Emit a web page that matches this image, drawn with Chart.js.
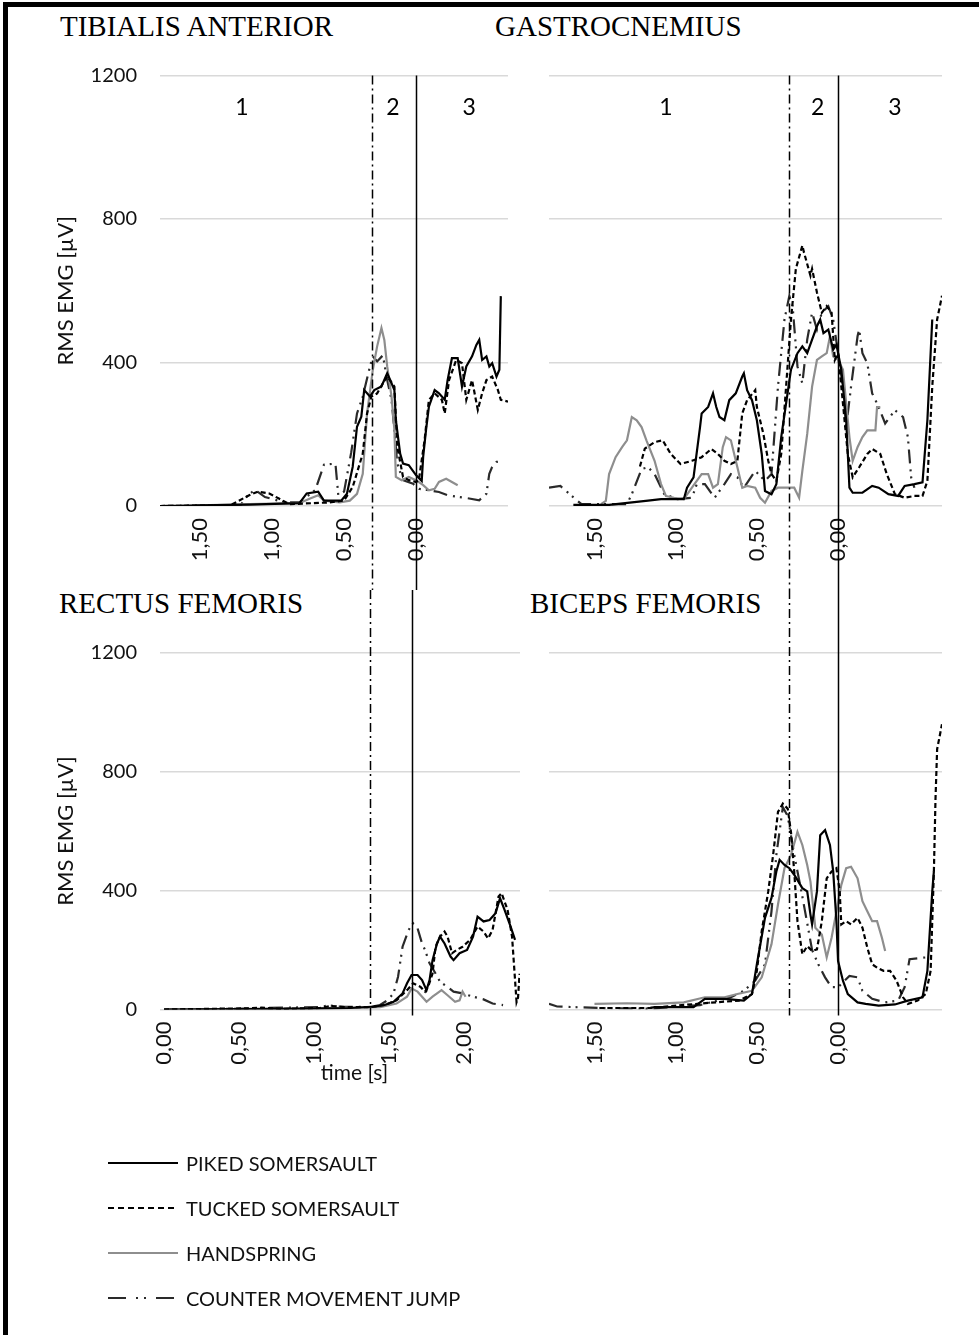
<!DOCTYPE html>
<html>
<head>
<meta charset="utf-8">
<script src="https://cdn.jsdelivr.net/npm/chart.js@4.4.1/dist/chart.umd.min.js"></script>
<style>
  body { margin: 0; background: #fff; }
  #page { position: relative; width: 979px; height: 1335px; overflow: hidden; background: #fff; }
  #frame { position: absolute; left: 3px; top: 2px; width: 1000px; height: 1400px;
           border-left: 5px solid #000; border-top: 5px solid #000; }
  canvas { position: absolute; }
  .title { position: absolute; font-family: "Liberation Serif", "Times New Roman", serif;
           font-size: 29px; line-height: 29px; color: #000; white-space: nowrap; }
  #legend { position: absolute; left: 108px; top: 1140px; font-family: Lato, sans-serif;
            font-size: 20px; color: #111; }
  .lrow { height: 45px; display: flex; align-items: center; }
  .lrow canvas { position: static; margin-right: 8px; }
</style>
</head>
<body>
<div id="page">
  <div id="frame"></div>
  <div class="title" style="left:60px;top:12px">TIBIALIS ANTERIOR</div>
  <div class="title" style="left:495px;top:12px">GASTROCNEMIUS</div>
  <div class="title" style="left:59px;top:589px">RECTUS FEMORIS</div>
  <div class="title" style="left:530px;top:589px">BICEPS FEMORIS</div>

  <canvas id="cTA" width="525" height="590" style="left:0;top:0"></canvas>
  <canvas id="cGA" width="454" height="590" style="left:525px;top:0"></canvas>
  <canvas id="cRF" width="525" height="520" style="left:0;top:590px"></canvas>
  <canvas id="cBF" width="454" height="520" style="left:525px;top:590px"></canvas>

  <div id="legend"></div>
</div>
<script>
// ---- series (time [s], RMS EMG [µV]) ----
// order: piked, tucked, handspring, counter movement jump
const SERIES_NAMES = ['PIKED SOMERSAULT', 'TUCKED SOMERSAULT', 'HANDSPRING', 'COUNTER MOVEMENT JUMP'];

// time axes
const LANDING_TICKS = [-1.5, -1.0, -0.5, 0];       // shown as time before landing
const RF_TICKS = [0, 0.5, 1.0, 1.5, 2.0];
const Y_TICKS_STEP = 400;
const Y_MAX = 1200;

// phase borders (dash-dot = take-off, solid = landing)
const LANDING_PHASES = [-0.305, 0];
const RF_PHASES = [1.37, 1.65];
const TA_PHASE_LABELS = [['1', -1.21], ['2', -0.16], ['3', 0.37]];
const GA_PHASE_LABELS = [['1', -1.06], ['2', -0.125], ['3', 0.35]];

// TIBIALIS ANTERIOR
const TA_PIKED = [[-1.78,0],[-1.50,2],[-1.16,4],[-0.81,8],[-0.76,35],[-0.68,40],[-0.64,15],[-0.52,15],[-0.48,34],[-0.44,109],[-0.41,221],[-0.38,249],[-0.36,323],[-0.32,305],[-0.29,323],[-0.24,333],[-0.20,370],[-0.18,352],[-0.15,323],[-0.14,240],[-0.11,146],[-0.09,118],[-0.05,114],[0.00,86],[0.04,70],[0.05,137],[0.07,212],[0.09,277],[0.13,323],[0.16,314],[0.20,296],[0.22,351],[0.25,412],[0.29,412],[0.32,333],[0.35,389],[0.39,417],[0.42,449],[0.44,463],[0.46,407],[0.49,417],[0.51,389],[0.53,398],[0.56,361],[0.58,380],[0.59,585]];
const TA_TUCKED = [[-1.78,0],[-1.29,2],[-1.16,30],[-1.10,40],[-1.02,35],[-0.95,20],[-0.88,5],[-0.60,10],[-0.50,15],[-0.44,53],[-0.37,146],[-0.34,258],[-0.31,305],[-0.27,314],[-0.23,342],[-0.20,361],[-0.15,333],[-0.13,165],[-0.09,81],[-0.05,72],[0.00,67],[0.02,72],[0.06,184],[0.09,296],[0.13,314],[0.18,296],[0.20,258],[0.23,351],[0.28,407],[0.32,398],[0.35,296],[0.39,351],[0.43,268],[0.46,314],[0.49,351],[0.53,361],[0.57,323],[0.59,296],[0.64,291]];
const TA_HAND = [[-1.50,2],[-1.16,5],[-0.81,8],[-0.74,20],[-0.68,30],[-0.64,15],[-0.53,10],[-0.46,15],[-0.41,34],[-0.37,90],[-0.34,258],[-0.30,380],[-0.27,445],[-0.24,496],[-0.22,463],[-0.20,389],[-0.17,305],[-0.15,212],[-0.14,81],[-0.10,72],[-0.05,81],[0.00,72],[0.05,58],[0.09,44],[0.13,48],[0.16,67],[0.21,76],[0.25,67],[0.29,58]];
const TA_CMJ = [[-1.78,0],[-1.22,2],[-1.17,30],[-1.12,45],[-1.05,25],[-0.91,10],[-0.81,10],[-0.70,45],[-0.64,115],[-0.56,118],[-0.54,30],[-0.50,40],[-0.45,150],[-0.41,258],[-0.37,305],[-0.32,389],[-0.30,417],[-0.27,403],[-0.23,420],[-0.20,351],[-0.17,296],[-0.15,212],[-0.13,118],[-0.09,72],[-0.02,62],[0.02,48],[0.09,44],[0.16,39],[0.22,30],[0.30,25],[0.37,21],[0.44,16],[0.49,34],[0.51,90],[0.53,109],[0.56,123],[0.60,123]];

// GASTROCNEMIUS
const GA_PIKED = [[-1.63,3],[-1.41,3],[-1.17,15],[-1.09,19],[-0.95,19],[-0.93,51],[-0.89,80],[-0.85,220],[-0.84,258],[-0.80,276],[-0.77,314],[-0.75,276],[-0.73,248],[-0.70,239],[-0.67,295],[-0.63,314],[-0.59,361],[-0.58,370],[-0.56,323],[-0.53,295],[-0.50,239],[-0.47,145],[-0.45,42],[-0.41,33],[-0.38,61],[-0.35,192],[-0.32,286],[-0.29,380],[-0.25,426],[-0.22,445],[-0.19,426],[-0.16,464],[-0.13,501],[-0.11,520],[-0.09,482],[-0.06,492],[-0.03,436],[-0.01,450],[0.02,380],[0.05,239],[0.07,51],[0.09,37],[0.15,37],[0.21,56],[0.25,51],[0.31,33],[0.37,28],[0.41,56],[0.47,61],[0.52,66],[0.55,239],[0.58,520]];
const GA_TUCKED = [[-1.22,110],[-1.19,160],[-1.13,178],[-1.08,183],[-1.03,145],[-0.97,117],[-0.90,126],[-0.84,136],[-0.78,159],[-0.74,145],[-0.70,126],[-0.66,117],[-0.62,126],[-0.59,258],[-0.56,295],[-0.51,323],[-0.50,276],[-0.46,201],[-0.43,126],[-0.41,89],[-0.38,70],[-0.35,145],[-0.32,333],[-0.29,520],[-0.26,661],[-0.22,726],[-0.21,707],[-0.17,642],[-0.16,661],[-0.13,595],[-0.10,539],[-0.07,557],[-0.04,539],[-0.02,407],[0.00,426],[0.03,286],[0.06,145],[0.09,80],[0.13,108],[0.18,145],[0.21,159],[0.26,145],[0.30,89],[0.35,33],[0.41,23],[0.47,28],[0.52,28],[0.55,70],[0.58,333],[0.61,520],[0.64,586]];
const GA_HAND = [[-1.46,5],[-1.43,14],[-1.41,89],[-1.37,136],[-1.33,164],[-1.30,183],[-1.27,248],[-1.24,239],[-1.21,220],[-1.18,183],[-1.13,126],[-1.09,61],[-1.06,28],[-1.01,23],[-0.95,19],[-0.90,51],[-0.84,89],[-0.80,89],[-0.77,51],[-0.74,61],[-0.71,164],[-0.69,192],[-0.66,183],[-0.62,108],[-0.59,51],[-0.56,56],[-0.51,51],[-0.48,23],[-0.45,9],[-0.41,42],[-0.37,51],[-0.31,51],[-0.27,51],[-0.24,23],[-0.22,98],[-0.19,201],[-0.16,333],[-0.13,407],[-0.10,417],[-0.07,426],[-0.05,473],[-0.03,417],[0.00,407],[0.03,380],[0.05,286],[0.07,192],[0.09,126],[0.12,164],[0.15,192],[0.18,211],[0.23,211],[0.24,276],[0.26,276]];
const GA_CMJ = [[-1.78,51],[-1.71,56],[-1.64,28],[-1.58,5],[-1.40,5],[-1.30,5],[-1.27,33],[-1.21,103],[-1.17,108],[-1.13,89],[-1.07,33],[-0.99,19],[-0.90,23],[-0.87,61],[-0.82,61],[-0.76,23],[-0.70,61],[-0.66,89],[-0.62,80],[-0.58,51],[-0.51,98],[-0.45,70],[-0.41,89],[-0.37,333],[-0.33,520],[-0.30,586],[-0.28,557],[-0.25,389],[-0.22,342],[-0.19,464],[-0.16,539],[-0.13,492],[-0.10,539],[-0.06,557],[-0.03,520],[0.00,426],[0.03,333],[0.05,220],[0.08,333],[0.12,473],[0.13,492],[0.15,426],[0.18,398],[0.21,314],[0.25,276],[0.29,230],[0.35,267],[0.40,248],[0.43,192],[0.45,80],[0.47,51]];

// RECTUS FEMORIS (time from start)
const RF_PIKED = [[0.00,0],[0.44,1],[0.91,3],[1.24,5],[1.41,10],[1.47,15],[1.53,26],[1.59,54],[1.62,88],[1.65,116],[1.69,116],[1.72,99],[1.75,65],[1.77,99],[1.79,166],[1.82,222],[1.84,245],[1.87,222],[1.91,178],[1.93,166],[1.97,189],[2.02,200],[2.06,245],[2.09,312],[2.13,296],[2.17,301],[2.21,324],[2.24,374],[2.27,335],[2.31,279],[2.34,234]];
const RF_TUCKED = [[0.00,0],[0.57,4],[0.65,6],[0.77,2],[1.04,5],[1.11,12],[1.21,8],[1.37,8],[1.47,15],[1.55,31],[1.62,65],[1.66,88],[1.71,76],[1.74,60],[1.76,76],[1.79,121],[1.81,211],[1.84,245],[1.87,262],[1.89,245],[1.92,189],[1.95,200],[1.99,211],[2.04,234],[2.09,279],[2.13,262],[2.16,239],[2.19,267],[2.23,380],[2.25,391],[2.29,335],[2.32,245],[2.34,99],[2.35,25],[2.36,40],[2.37,120]];
const RF_HAND = [[0.00,0],[0.91,2],[1.44,8],[1.55,20],[1.62,43],[1.65,71],[1.69,60],[1.72,43],[1.75,26],[1.79,43],[1.85,65],[1.89,48],[1.94,26],[1.97,31],[1.99,60],[2.01,43]];
const RF_CMJ = [[0.00,0],[0.61,3],[0.67,5],[1.04,8],[1.09,14],[1.17,10],[1.37,8],[1.44,15],[1.49,31],[1.53,54],[1.56,110],[1.59,211],[1.63,267],[1.66,290],[1.69,273],[1.72,222],[1.74,200],[1.77,155],[1.81,121],[1.84,93],[1.89,76],[1.93,60],[1.99,54],[2.06,43],[2.13,34],[2.19,20],[2.26,15]];

// BICEPS FEMORIS
const BF_PIKED = [[-1.16,5],[-1.13,8],[-0.89,8],[-0.82,36],[-0.70,36],[-0.58,30],[-0.53,52],[-0.50,152],[-0.45,308],[-0.41,375],[-0.38,464],[-0.36,503],[-0.33,486],[-0.30,475],[-0.27,453],[-0.22,408],[-0.19,397],[-0.17,319],[-0.16,286],[-0.13,397],[-0.11,586],[-0.08,603],[-0.05,553],[-0.03,464],[-0.01,297],[0.00,163],[0.03,97],[0.06,52],[0.12,24],[0.17,19],[0.25,13],[0.35,17],[0.43,30],[0.52,41],[0.55,130],[0.58,397],[0.59,464]];
const BF_TUCKED = [[-1.47,5],[-1.16,5],[-0.85,20],[-0.61,30],[-0.53,52],[-0.50,130],[-0.47,264],[-0.43,397],[-0.40,519],[-0.37,664],[-0.34,692],[-0.31,675],[-0.29,597],[-0.27,464],[-0.25,297],[-0.22,186],[-0.19,213],[-0.16,197],[-0.13,202],[-0.10,297],[-0.07,441],[-0.04,464],[-0.01,475],[0.01,397],[0.02,286],[0.05,297],[0.08,286],[0.12,308],[0.15,275],[0.18,208],[0.21,152],[0.24,141],[0.28,130],[0.32,130],[0.36,97],[0.40,41],[0.43,19],[0.49,30],[0.54,52],[0.57,130],[0.59,464],[0.60,708],[0.61,875],[0.64,959]];
const BF_HAND = [[-1.50,19],[-1.30,21],[-1.13,19],[-0.95,24],[-0.82,41],[-0.70,41],[-0.62,52],[-0.53,63],[-0.47,108],[-0.41,219],[-0.37,353],[-0.33,475],[-0.29,519],[-0.25,597],[-0.22,553],[-0.19,486],[-0.17,430],[-0.14,275],[-0.10,252],[-0.07,175],[-0.04,241],[-0.01,330],[0.02,419],[0.05,475],[0.08,480],[0.12,441],[0.15,364],[0.18,330],[0.21,297],[0.24,297],[0.27,241],[0.29,197]];
const BF_CMJ = [[-1.78,19],[-1.73,10],[-1.47,5],[-1.16,3],[-0.85,15],[-0.66,41],[-0.58,63],[-0.51,97],[-0.45,152],[-0.41,330],[-0.38,520],[-0.34,680],[-0.31,650],[-0.27,520],[-0.22,380],[-0.16,200],[-0.12,150],[-0.08,108],[-0.04,75],[0.00,75],[0.04,97],[0.07,113],[0.12,108],[0.15,63],[0.21,36],[0.29,24],[0.37,30],[0.41,75],[0.44,169],[0.54,175]];

// ---- styles ----
const SERIES_COLORS = ['#000000', '#000000', '#8e8e8e', '#2a2a2a'];
const SERIES_DASH = [[], [5, 3], [], [14, 6, 2, 5, 2, 6]];
const LEGEND_DASH = [[], [6, 4], [], [18, 10, 2, 6, 2, 10]];
const GRID_COLOR = '#d9d9d9';
const TEXT_COLOR = '#111111';

Chart.defaults.font.family = 'Lato, "Open Sans", sans-serif';
Chart.defaults.color = TEXT_COLOR;

// phase borders, the 1/2/3 region numbers and the time-axis caption
const phasePlugin = {
  id: 'phases',
  afterDatasetsDraw(chart, args, opts) {
    const { ctx, chartArea } = chart;
    const x = chart.scales.x;
    const top = opts.fromTop ? 0 : chartArea.top;
    const bottom = opts.fromTop ? chartArea.bottom + 6 : chart.height;
    ctx.save();
    ctx.strokeStyle = '#000';
    ctx.lineWidth = 1.5;
    opts.lines.forEach((t, i) => {
      const px = Math.round(x.getPixelForValue(t)) + 0.5;
      ctx.setLineDash(i === 0 ? [9, 4, 2, 4] : []);
      ctx.beginPath();
      ctx.moveTo(px, top);
      ctx.lineTo(px, bottom);
      ctx.stroke();
    });
    ctx.setLineDash([]);
    ctx.fillStyle = '#000';
    ctx.textAlign = 'center';
    ctx.textBaseline = 'middle';
    if (opts.labels) {
      ctx.font = '23px Lato, sans-serif';
      opts.labels.forEach(([txt, t]) => {
        ctx.fillText(txt, x.getPixelForValue(t), chartArea.top + 32);
      });
    }
    if (opts.caption) {
      ctx.fillStyle = TEXT_COLOR;
      ctx.font = '21px Lato, sans-serif';
      ctx.fillText(opts.caption.text, x.getPixelForValue(opts.caption.t), chartArea.bottom + opts.caption.dy);
    }
    ctx.restore();
  }
};

function makeDatasets(list) {
  return list.map((pts, i) => ({
    label: SERIES_NAMES[i],
    data: pts.map(([t, v]) => ({ x: t, y: v })),
    borderColor: SERIES_COLORS[i],
    borderWidth: 2.2,
    borderDash: SERIES_DASH[i],
    pointRadius: 0,
    tension: 0,
    fill: false
  }));
}

const fmtTime = v => Math.abs(v).toFixed(2).replace('.', ',');

function buildChart(id, series, o) {
  return new Chart(document.getElementById(id), {
    type: 'line',
    data: { datasets: makeDatasets(series) },
    plugins: [phasePlugin],
    options: {
      responsive: false,
      animation: false,
      events: [],
      layout: { padding: o.padding },
      plugins: {
        legend: { display: false },
        tooltip: { enabled: false },
        phases: o.phases
      },
      scales: {
        x: {
          type: 'linear',
          min: o.xMin,
          max: o.xMax,
          grid: { display: false, drawTicks: false },
          border: { display: false },
          afterBuildTicks: s => { s.ticks = o.xTicks.map(v => ({ value: v })); },
          ticks: {
            minRotation: 90, maxRotation: 90, padding: 12,
            font: { size: 22 }, color: TEXT_COLOR,
            callback: v => fmtTime(v)
          },
          afterFit: s => { s.height = o.xHeight; s.paddingLeft = 0; s.paddingRight = 0; }
        },
        y: {
          min: 0, max: Y_MAX,
          grid: { color: GRID_COLOR, lineWidth: 1.5, drawTicks: false },
          border: { display: false },
          ticks: {
            display: o.yLabels, stepSize: Y_TICKS_STEP, padding: 23,
            font: { size: 20 }, color: TEXT_COLOR,
            callback: v => String(v)
          },
          title: {
            display: o.yLabels, text: 'RMS EMG [µV]',
            font: { size: 22 }, color: TEXT_COLOR,
            padding: { top: 53, bottom: 0 }
          },
          afterFit: s => { s.width = o.yWidth; s.paddingTop = 0; s.paddingBottom = 0; }
        }
      }
    }
  });
}

buildChart('cTA', [TA_PIKED, TA_TUCKED, TA_HAND, TA_CMJ], {
  padding: { top: 75.5, right: 17, bottom: 0, left: 0 },
  xMin: -1.78, xMax: 0.64, xTicks: LANDING_TICKS, xHeight: 84,
  yLabels: true, yWidth: 160,
  phases: { lines: LANDING_PHASES, labels: TA_PHASE_LABELS, fromTop: false }
});
buildChart('cGA', [GA_PIKED, GA_TUCKED, GA_HAND, GA_CMJ], {
  padding: { top: 75.5, right: 37, bottom: 0, left: 0 },
  xMin: -1.78, xMax: 0.64, xTicks: LANDING_TICKS, xHeight: 84,
  yLabels: false, yWidth: 24,
  phases: { lines: LANDING_PHASES, labels: GA_PHASE_LABELS, fromTop: false }
});
buildChart('cRF', [RF_PIKED, RF_TUCKED, RF_HAND, RF_CMJ], {
  padding: { top: 62.5, right: 5, bottom: 0, left: 0 },
  xMin: -0.027, xMax: 2.373, xTicks: RF_TICKS, xHeight: 100.5,
  yLabels: true, yWidth: 160,
  phases: { lines: RF_PHASES, labels: null, fromTop: true,
            caption: { text: 'time [s]', t: 1.27, dy: 64 } }
});
buildChart('cBF', [BF_PIKED, BF_TUCKED, BF_HAND, BF_CMJ], {
  padding: { top: 62.5, right: 37, bottom: 0, left: 0 },
  xMin: -1.78, xMax: 0.64, xTicks: LANDING_TICKS, xHeight: 100.5,
  yLabels: false, yWidth: 24,
  phases: { lines: LANDING_PHASES, labels: null, fromTop: true }
});

// legend
const legend = document.getElementById('legend');
SERIES_NAMES.forEach((name, i) => {
  const row = document.createElement('div');
  row.className = 'lrow';
  const c = document.createElement('canvas');
  c.width = 70; c.height = 6;
  const g = c.getContext('2d');
  g.strokeStyle = SERIES_COLORS[i];
  g.lineWidth = 2.2;
  g.setLineDash(LEGEND_DASH[i]);
  g.beginPath(); g.moveTo(0, 3); g.lineTo(70, 3); g.stroke();
  const s = document.createElement('span');
  s.textContent = name;
  row.appendChild(c);
  row.appendChild(s);
  legend.appendChild(row);
});
</script>
</body>
</html>
